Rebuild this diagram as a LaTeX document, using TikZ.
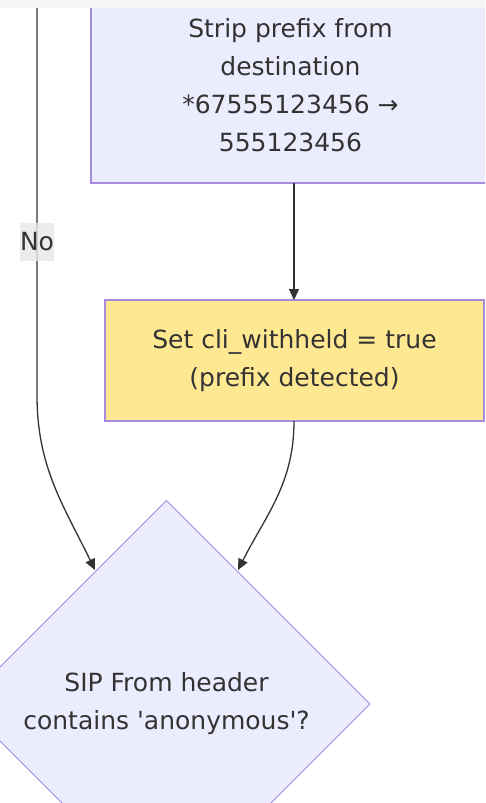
\documentclass[tikz,border=0pt]{standalone}
\usepackage{fontspec}
\setmainfont{DejaVu Sans}
\usetikzlibrary{arrows.meta,shapes.geometric}
\definecolor{nodefill}{HTML}{ECECFF}
\definecolor{nodeline}{HTML}{A58AE0}
\definecolor{yellowfill}{HTML}{FFE892}
\definecolor{edgecol}{HTML}{333333}
\definecolor{txt}{HTML}{333333}
\definecolor{lblbg}{HTML}{E8E8E8}
\tikzset{
  boxtxt/.style={font=\fontsize{25}{38}\selectfont, text=txt, align=center},
  edge/.style={draw=edgecol, line width=1.3pt, -{Triangle[length=11pt,width=10pt]}},
}
\begin{document}
\begin{tikzpicture}[x=1pt,y=-1pt]
\useasboundingbox (0,0) rectangle (485,803);
\fill[white] (0,0) rectangle (485,803);
\fill[black!4] (0,0) rectangle (485,8);
\begin{scope}
\clip (0,8) rectangle (485,803);
% top box
\draw[fill=nodefill, draw=nodeline, line width=1.5pt] (91,-20) rectangle (492,183);
\node[boxtxt] (strip) at (290.5,85) {Strip prefix from\\destination\\*67555123456 →\\555123456};
\coordinate (stripbot) at (294,183);
% yellow box
\draw[fill=yellowfill, draw=nodeline, line width=1.5pt] (105,300) rectangle (484,421);
\node[boxtxt] (setcli) at (294.5,361) {Set cli\_withheld = true\\(prefix detected)};
\coordinate (settop) at (294,300);
\coordinate (setbot) at (294,421);
% diamond
\draw[fill=nodefill, draw=nodeline, line width=1pt] (166.5,500.5) -- (370,704) -- (166.5,907.5) -- (-37,704) -- cycle;
\node[boxtxt] (sip) at (166.5,704) {SIP From header\\contains \textquotesingle anonymous\textquotesingle ?};
\coordinate (sipl) at (95,570);
\coordinate (sipr) at (238,570);
% no edge
\coordinate (nostart) at (37,0);
\coordinate (nobend) at (37,395);
\draw[edge] (nostart) -- (nobend) to[out=-90,in=116] (sipl);
\node[font=\fontsize{25}{30}\selectfont, text=txt, fill=lblbg, fill opacity=0.8, text opacity=1, inner sep=0pt, minimum width=34pt, minimum height=38pt] (no) at (37,242) {No};
% edges
\draw[edge] (stripbot) -- (settop);
\draw[edge] (setbot) to[out=-90,in=63] (sipr);
\end{scope}
\end{tikzpicture}
\end{document}
